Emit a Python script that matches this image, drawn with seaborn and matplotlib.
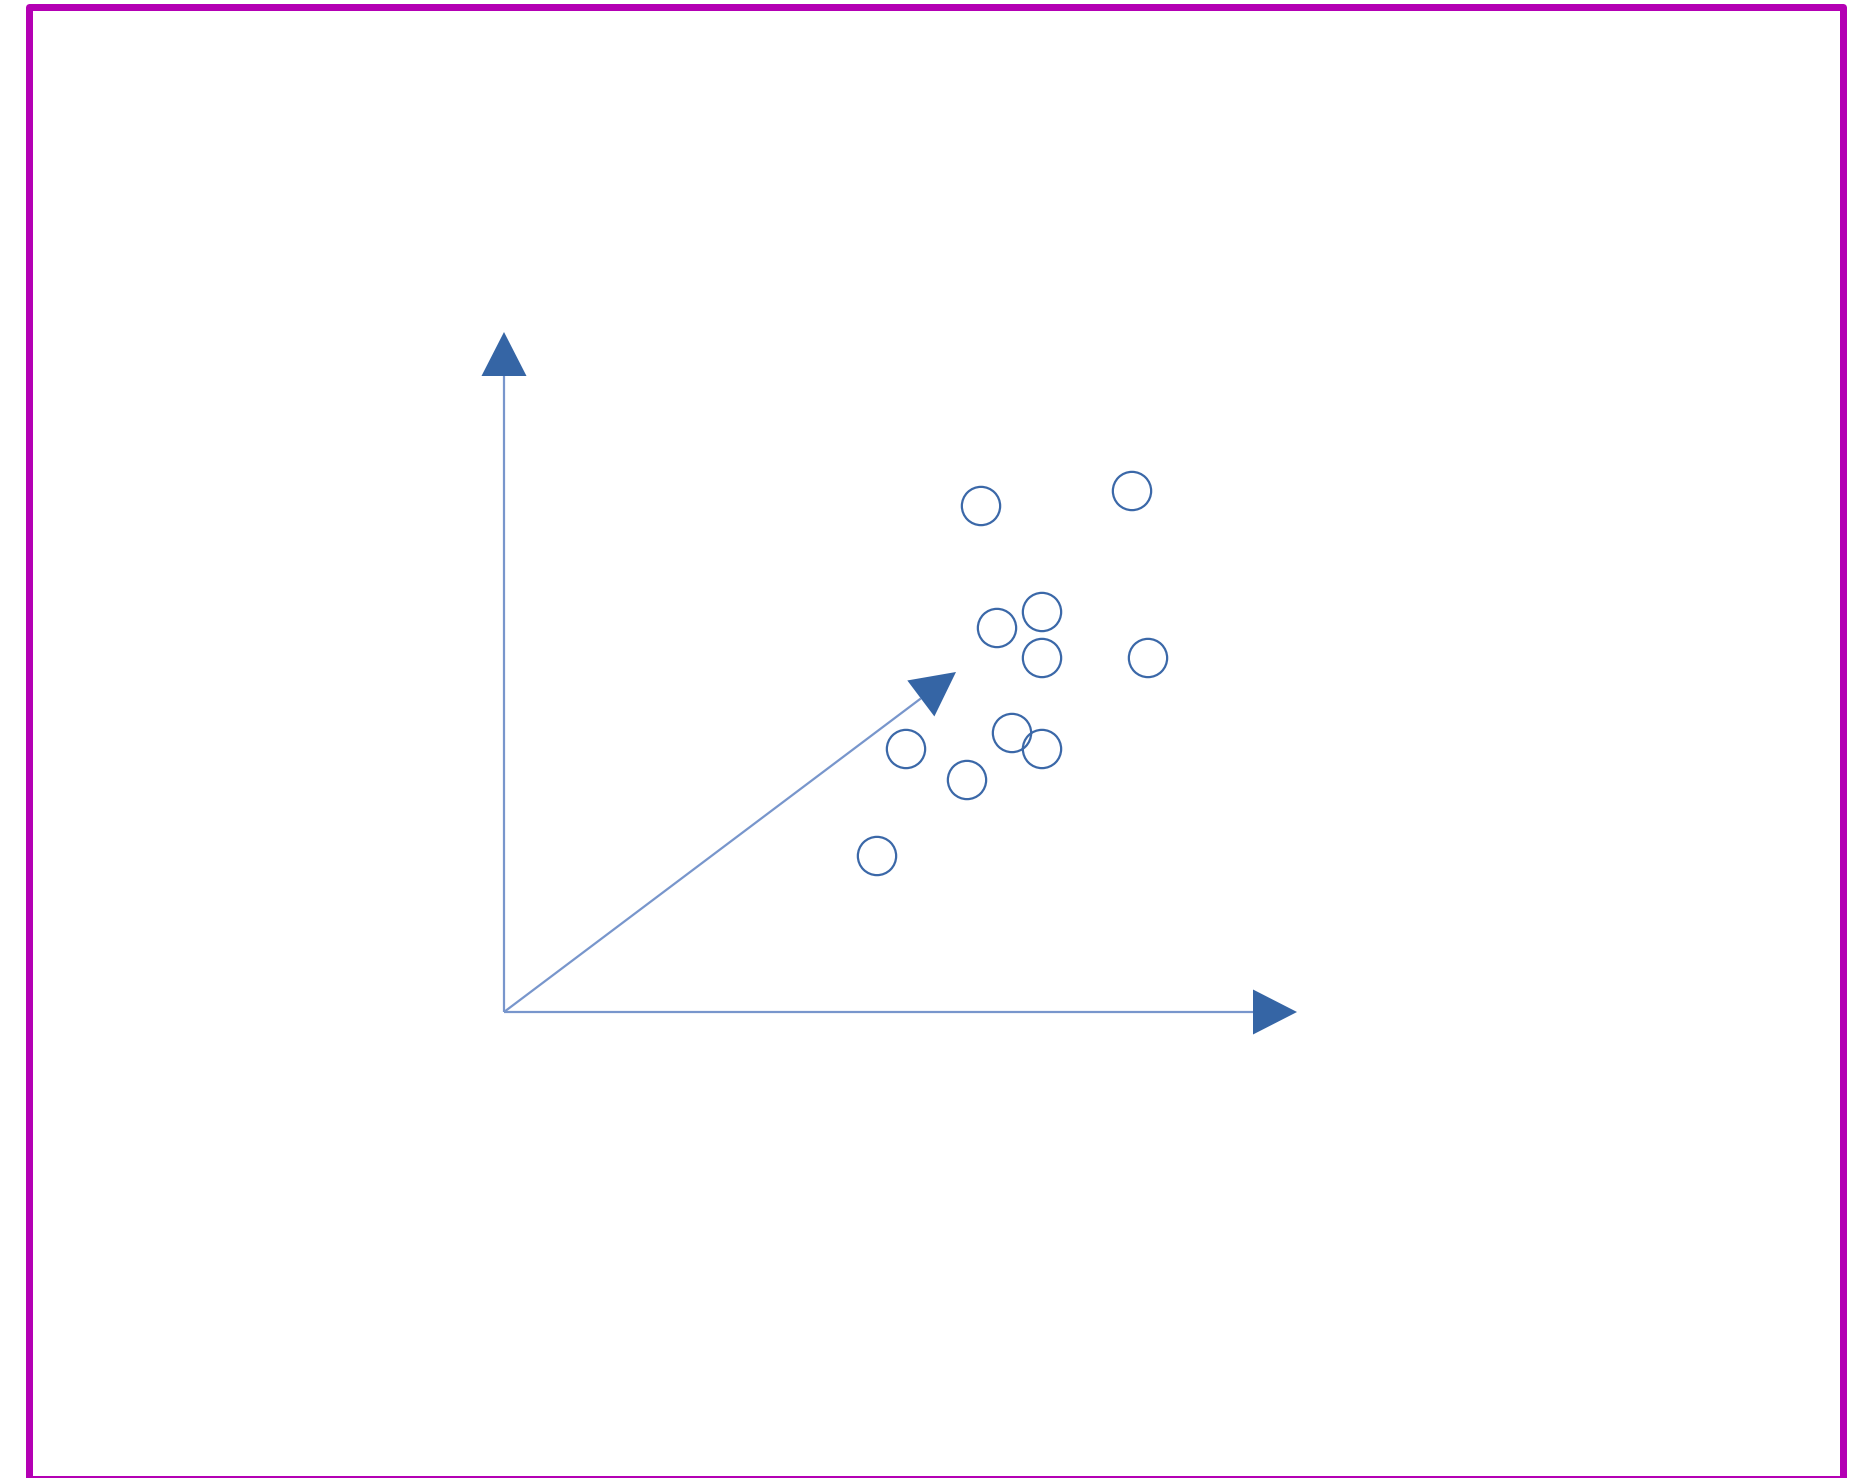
import matplotlib
matplotlib.use("Agg")
import matplotlib.pyplot as plt
import seaborn as sns
import pandas as pd
from matplotlib.patches import Rectangle

sns.set_theme(style="white")

# Data (units: origin of the drawn axes at 0,0)
point_x = [4.77, 6.28, 4.93, 5.38, 5.38, 6.44, 4.02, 5.08, 5.38, 4.63, 3.73]
point_y = [5.06, 5.21, 3.84, 4.00, 3.54, 3.54, 2.63, 2.79, 2.63, 2.32, 1.56]

x_axis_tip = (7.93, 0.0)
y_axis_tip = (0.0, 6.80)
vector_tip = (4.52, 3.40)

line_color = "#7896cc"
head_color = "#3565a5"
circle_color = "#3b68a8"
frame_color = "#b400b4"

W, H, DPI = 1869, 1478, 100
fig = plt.figure(figsize=(W / DPI, H / DPI), dpi=DPI)
ax = fig.add_axes([0, 0, 1, 1])

head_len = 0.44
head_w = 0.45

for tip in (x_axis_tip, y_axis_tip, vector_tip):
    tx, ty = tip
    L = (tx ** 2 + ty ** 2) ** 0.5
    ux, uy = tx / L, ty / L
    bx, by = tx - ux * head_len, ty - uy * head_len
    ax.plot([0, bx], [0, by], color=line_color, lw=1.6, solid_capstyle="butt", zorder=2)
    ax.arrow(bx, by, ux * head_len, uy * head_len, width=0, head_width=head_w,
             head_length=head_len, length_includes_head=True, color=head_color,
             lw=0, zorder=3)

df = pd.DataFrame({"x": point_x, "y": point_y})
sns.scatterplot(data=df, x="x", y="y", ax=ax, marker="o", s=760,
                facecolor="none", edgecolor=circle_color, linewidth=1.6, zorder=4)
ax.set_xlim(-5.04, 13.65)
ax.set_ylim(-4.66, 10.12)
ax.axis("off")

# magenta frame (figure pixel coords)
lw_px = 7
top_c, bot_c, left_c, right_c = 6.5, 1478.5, 28.5, 1843
rect = Rectangle((left_c / W, (H - bot_c) / H), (right_c - left_c) / W, (bot_c - top_c) / H,
                 transform=fig.transFigure, fill=False, edgecolor=frame_color,
                 linewidth=lw_px * 72 / DPI, joinstyle="round", clip_on=False)
fig.patches.append(rect)

fig.savefig("out.png", dpi=DPI, facecolor="white")
